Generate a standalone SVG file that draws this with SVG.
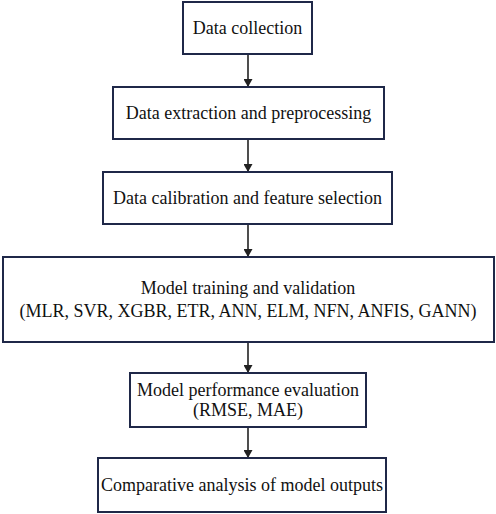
<svg xmlns="http://www.w3.org/2000/svg" width="496" height="514" viewBox="0 0 496 514">
<style>
.box{fill:#ffffff;stroke:#1f2848;stroke-width:2}
.t{font-family:'Times New Roman','Liberation Serif',serif;font-size:18px;fill:#111111;text-anchor:middle}
.c{stroke:#222222;stroke-width:1.6;fill:none}
</style>
<defs>
<marker id="ah" markerWidth="8" markerHeight="9" refX="8" refY="4.5" orient="auto" markerUnits="userSpaceOnUse">
<path d="M0,0 L8,4.5 L0,9 Z" fill="#222222"/>
</marker>
</defs>
<rect width="496" height="514" fill="#ffffff"/>
<g id="connectors">
<line class="c" x1="248" y1="54" x2="248" y2="87" marker-end="url(#ah)"/>
<line class="c" x1="248" y1="139" x2="248" y2="172" marker-end="url(#ah)"/>
<line class="c" x1="248" y1="224" x2="248" y2="257" marker-end="url(#ah)"/>
<line class="c" x1="248" y1="342" x2="248" y2="373" marker-end="url(#ah)"/>
<line class="c" x1="248" y1="427" x2="248" y2="458" marker-end="url(#ah)"/>
</g>
<g id="n1"><rect class="box" x="183" y="2" width="129" height="52"/><text class="t" x="247.5" y="34" font-family="Liberation Serif">Data collection</text></g>
<g id="n2"><rect class="box" x="113" y="87" width="271" height="52"/><text class="t" x="248.5" y="119">Data extraction and preprocessing</text></g>
<g id="n3"><rect class="box" x="103" y="172" width="289" height="52"/><text class="t" x="247.5" y="204">Data calibration and feature selection</text></g>
<g id="n4"><rect class="box" x="3" y="257" width="491" height="85"/><text class="t" x="248" y="294">Model training and validation</text><text class="t" x="248" y="317">(MLR, SVR, XGBR, ETR, ANN, ELM, NFN, ANFIS, GANN)</text></g>
<g id="n5"><rect class="box" x="130" y="373" width="236" height="54"/><text class="t" x="248" y="396">Model performance evaluation</text><text class="t" x="248" y="416">(RMSE, MAE)</text></g>
<g id="n6"><rect class="box" x="98" y="458" width="288" height="54"/><text class="t" x="242" y="491">Comparative analysis of model outputs</text></g>
</svg>
